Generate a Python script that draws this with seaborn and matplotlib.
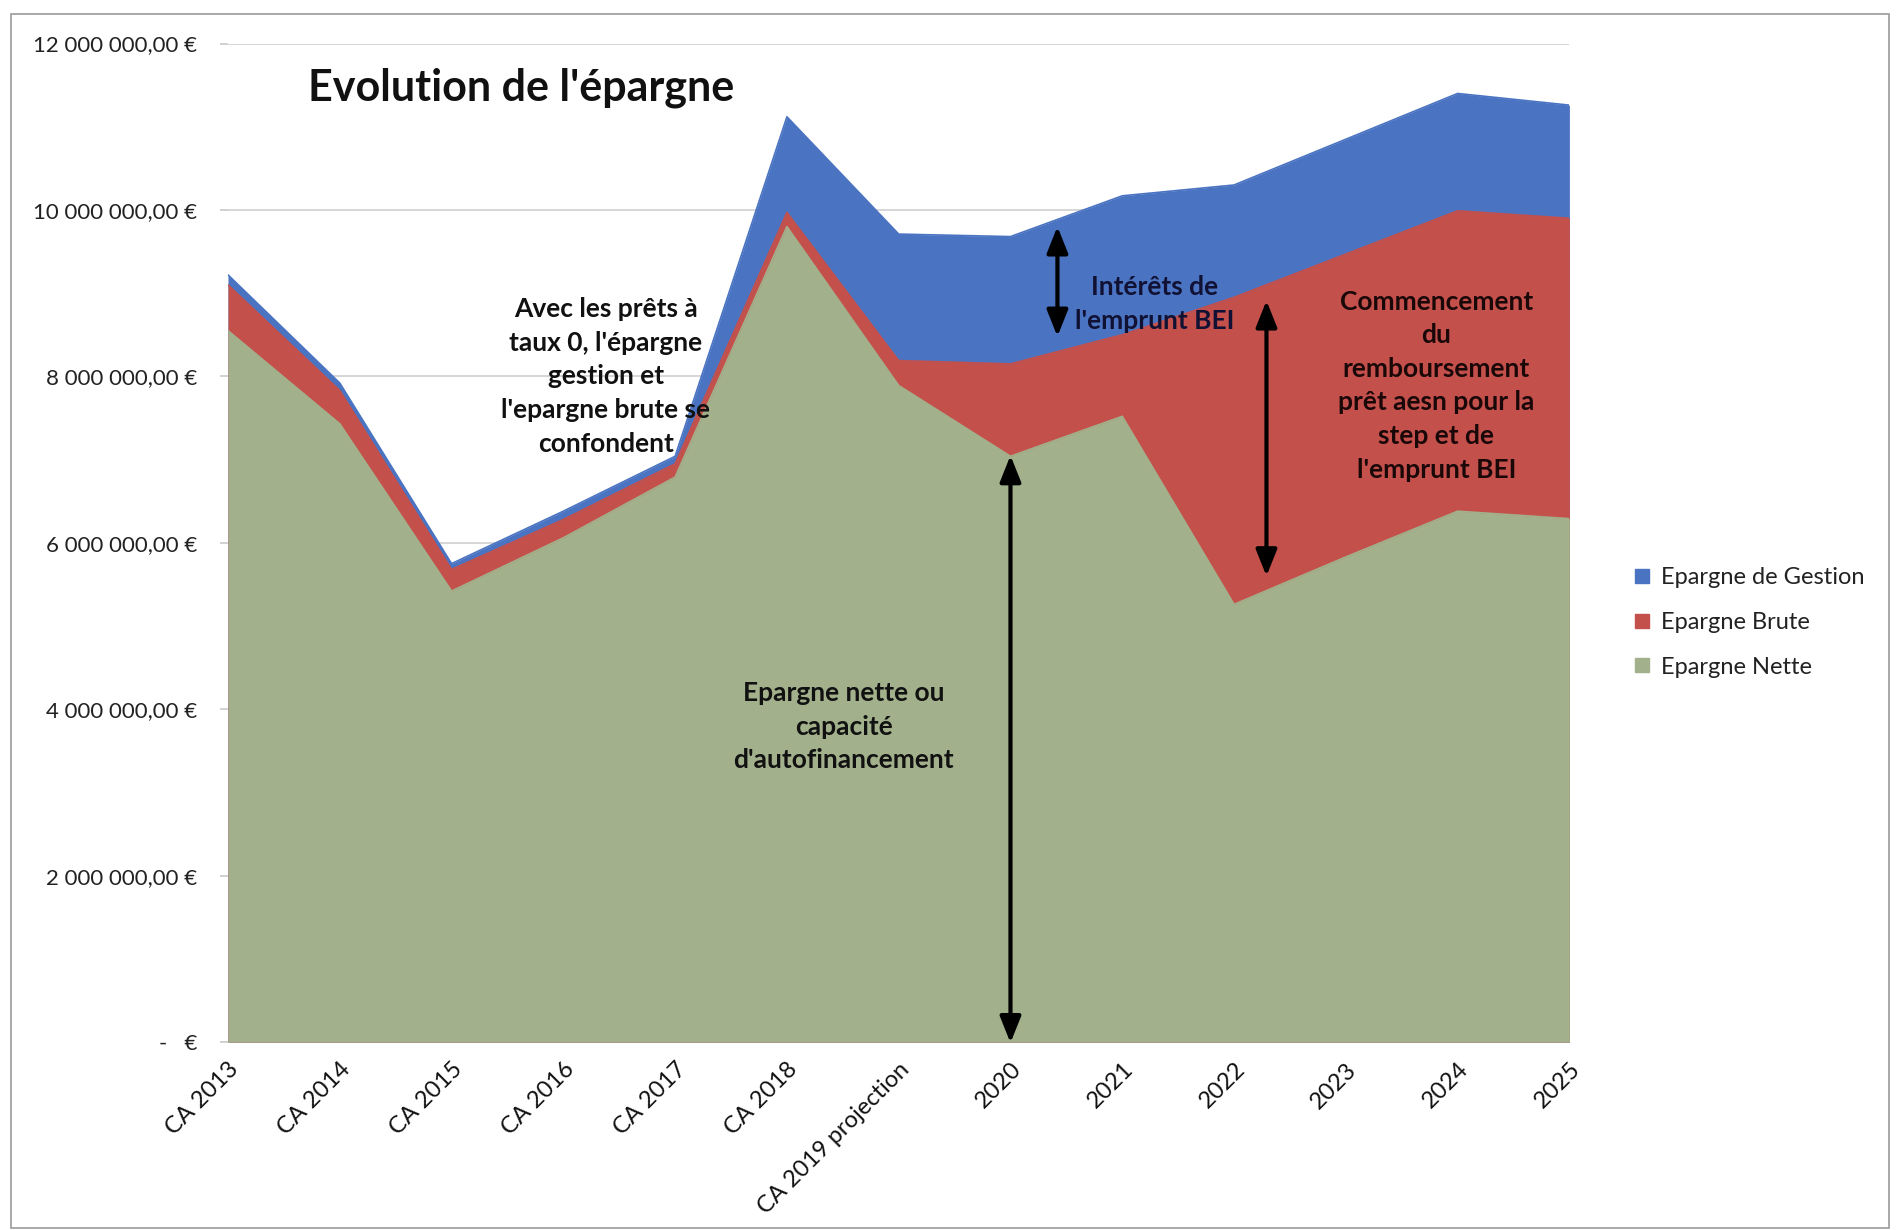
import matplotlib
matplotlib.use("Agg")
import matplotlib.pyplot as plt
from matplotlib.lines import Line2D
from matplotlib.patches import Rectangle
import seaborn as sns
import pandas as pd
import numpy as np

# ---------------- data (values in euros) ----------------
categories = ["CA 2013", "CA 2014", "CA 2015", "CA 2016", "CA 2017", "CA 2018",
              "CA 2019 projection", "2020", "2021", "2022", "2023", "2024", "2025"]
epargne_gestion = [9.22e6, 7.92e6, 5.75e6, 6.38e6, 7.04e6, 11.12e6, 9.71e6,
                   9.68e6, 10.17e6, 10.30e6, 10.85e6, 11.40e6, 11.26e6]
epargne_brute = [9.10e6, 7.83e6, 5.68e6, 6.28e6, 6.95e6, 9.97e6, 8.19e6,
                 8.15e6, 8.50e6, 8.95e6, 9.47e6, 9.99e6, 9.90e6]
epargne_nette = [8.55e6, 7.43e6, 5.42e6, 6.06e6, 6.79e6, 9.80e6, 7.89e6,
                 7.04e6, 7.52e6, 5.26e6, 5.83e6, 6.38e6, 6.29e6]
series_names = ["Epargne de Gestion", "Epargne Brute", "Epargne Nette"]
y_ticks = [0, 2e6, 4e6, 6e6, 8e6, 10e6, 12e6]
y_tick_labels = ["-   €", "2 000 000,00 €", "4 000 000,00 €", "6 000 000,00 €",
                 "8 000 000,00 €", "10 000 000,00 €", "12 000 000,00 €"]

colors = {"Epargne de Gestion": "#4a73c2",
          "Epargne Brute": "#c4504c",
          "Epargne Nette": "#a2b18b"}

# ---------------- style ----------------
sns.set_theme(style="white")
plt.rcParams["font.family"] = ["Lato", "DejaVu Sans"]

x = np.arange(len(categories))
df = pd.DataFrame({
    "x": np.tile(x, 3),
    "value": epargne_gestion + epargne_brute + epargne_nette,
    "serie": np.repeat(series_names, len(categories)),
})

fig = plt.figure(figsize=(19, 12.3), dpi=100)
ax = fig.add_axes([0.12, 0.1528, 0.706, 0.8118])

# areas (overlapping, gestion at the back)
for name, vals in zip(series_names, [epargne_gestion, epargne_brute, epargne_nette]):
    ax.fill_between(x, 0, vals, color=colors[name], linewidth=0, zorder=2)
sns.lineplot(data=df, x="x", y="value", hue="serie", palette=colors,
             hue_order=series_names, linewidth=1.2, legend=False, ax=ax, zorder=3)

ax.set_xlim(0, len(categories) - 1)
ax.set_ylim(0, 12e6)
ax.set_yticks(y_ticks)
ax.set_yticklabels(y_tick_labels, fontsize=16, color="#222222")
ax.set_xticks(x)
ax.set_xticklabels(categories, rotation=45, ha="right", rotation_mode="anchor",
                   fontsize=17, color="#111111")
ax.tick_params(axis="y", length=6, color="#cccccc", pad=16, left=True)
ax.tick_params(axis="x", length=0, pad=12)
ax.set_xlabel("")
ax.set_ylabel("")
ax.grid(axis="y", color="#cfcfcf", linewidth=1.2, zorder=0)
ax.grid(axis="x", visible=False)
ax.set_axisbelow(True)
for s in ax.spines.values():
    s.set_visible(False)

# title
fig.text(0.162, 0.929, "Evolution de l'épargne", fontsize=31, fontweight="bold",
         color="#111111", ha="left", va="center")

# annotations
txt_kw = dict(ha="center", va="center", fontsize=19, fontweight="bold",
              linespacing=1.48, zorder=5)
ax.text(3.38, 8.0e6, "Avec les prêts à\ntaux 0, l'épargne\ngestion et\nl'epargne brute se\nconfondent",
        color="#111111", **txt_kw)
ax.text(8.29, 8.87e6, "Intérêts de\nl'emprunt BEI", color="#111133", **txt_kw)
ax.text(10.81, 7.89e6, "Commencement\ndu\nremboursement\nprêt aesn pour la\nstep et de\nl'emprunt BEI",
        color="#1a0808", **txt_kw)
ax.text(5.51, 3.79e6, "Epargne nette ou\ncapacité\nd'autofinancement",
        color="#111111", **txt_kw)

arrow_kw = dict(arrowstyle="<|-|>,head_length=0.8,head_width=0.32", color="black",
                lw=3, mutation_scale=20, shrinkA=0, shrinkB=0)
ax.annotate("", xy=(7.42, 9.80e6), xytext=(7.42, 8.48e6), arrowprops=arrow_kw, zorder=6)
ax.annotate("", xy=(9.29, 8.91e6), xytext=(9.29, 5.60e6), arrowprops=arrow_kw, zorder=6)
ax.annotate("", xy=(7.0, 7.05e6), xytext=(7.0, -0.01e6), arrowprops=arrow_kw, zorder=6,
            annotation_clip=False)

# legend
handles = [Line2D([], [], marker="s", linestyle="none", markersize=10,
                  markerfacecolor=colors[n], markeredgecolor=colors[n]) for n in series_names]
fig.legend(handles, series_names, loc="upper left", bbox_to_anchor=(0.847, 0.556),
           frameon=False, fontsize=17, labelspacing=1.0, handletextpad=0.3,
           handlelength=1.0, labelcolor="#222222")

# outer frame
fig.add_artist(Rectangle((0.006, 0.002), 0.988, 0.987, transform=fig.transFigure,
                         fill=False, edgecolor="#9a9a9a", linewidth=1.2))

fig.savefig("out.png", dpi=100)
